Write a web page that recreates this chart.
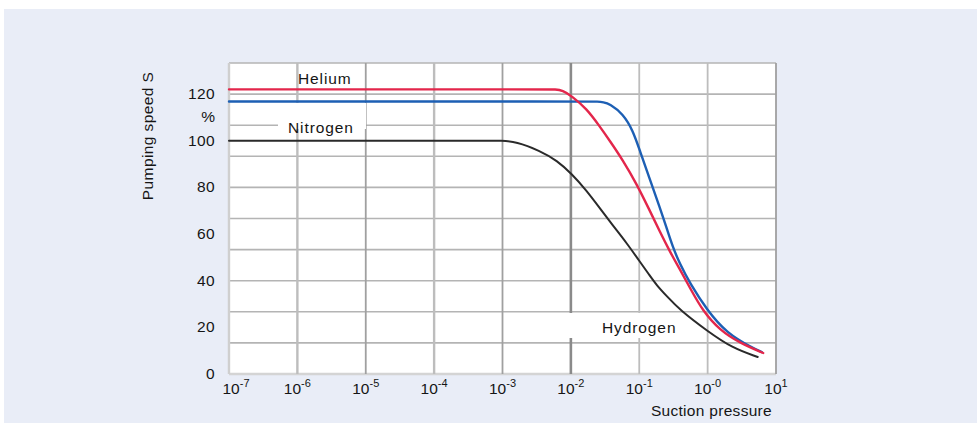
<!DOCTYPE html>
<html>
<head>
<meta charset="utf-8">
<script src="https://cdn.jsdelivr.net/npm/d3@7"></script>
<style>
  body { margin: 0; background: #fff; }
  text { font-family: 'Liberation Sans', Arial, sans-serif; fill: #151515; }
</style>
</head>
<body>
<div id="chart"></div>
<script>
// pressure exponents for the decade ticks
const decades = [-7, -6, -5, -4, -3, -2, -1, 0, 1]
const decadeLabels = ['-7', '-6', '-5', '-4', '-3', '-2', '-1', '-0', '1']
const speedTicks = [0, 20, 40, 60, 80, 100, 120]

// curves: pressure, pumping speed %
const heliumP = [1e-7, 4.5e-3, 5.9e-3, 7.6e-3, 1.02e-2, 1.7e-2, 2.6e-2, 3.7e-2, 5.8e-2, 9.1e-2, 1.4e-1, 2.0e-1, 2.8e-1, 3.9e-1, 5.5e-1, 8.5e-1, 1.5, 3.0, 6.5]
const heliumS = [122, 122, 122, 121.5, 119.2, 113.7, 106.4, 100, 91.5, 81.6, 70.5, 61, 52.5, 45, 37, 27, 18.8, 13.2, 9.0]

const hydrogenP = [1e-7, 2.0e-2, 2.4e-2, 3.0e-2, 3.7e-2, 5.8e-2, 8.1e-2, 1.02e-1, 1.4e-1, 2.0e-1, 2.5e-1, 3.1e-1, 3.9e-1, 5.5e-1, 9.8e-1, 1.9, 4.6, 6.2]
const hydrogenS = [116.8, 116.8, 116.8, 116.5, 115.8, 111.5, 104.3, 95.7, 84.2, 71.4, 62.8, 54.3, 47.4, 38.9, 27.4, 17.5, 11.1, 9.4]

const nitrogenP = [1e-7, 7e-4, 9.1e-4, 1.6e-3, 3.5e-3, 6.3e-3, 1.02e-2, 1.7e-2, 2.6e-2, 4.1e-2, 6.6e-2, 1.0e-1, 1.4e-1, 1.8e-1, 2.5e-1, 3.9e-1, 9.8e-1, 2.3, 5.4]
const nitrogenS = [100, 100, 100, 99.6, 95.7, 91.5, 85.9, 78.6, 71.4, 63.7, 56, 48.5, 42.5, 38, 33.5, 27.5, 18.5, 11.1, 7.3]

const width = 977
const height = 423
const plot = { left: 229, right: 776, top: 63, bottom: 374 }
const yMax = 133.3

const svg = d3
  .select('#chart')
  .append('svg')
  .attr('width', width)
  .attr('height', height)

// panel background
svg
  .append('rect')
  .attr('x', 4)
  .attr('y', 9)
  .attr('width', width - 4)
  .attr('height', height - 9)
  .attr('fill', '#e9edf7')

const xScale = d3
  .scaleLog()
  .domain([1e-7, 10])
  .range([plot.left, plot.right])

const yScale = d3
  .scaleLinear()
  .domain([0, yMax])
  .range([plot.bottom, plot.top])

svg
  .append('rect')
  .attr('x', plot.left)
  .attr('y', plot.top)
  .attr('width', plot.right - plot.left)
  .attr('height', plot.bottom - plot.top)
  .attr('fill', '#fff')

// horizontal grid: the scan has ten equal divisions, not one per label
const grid = svg.append('g')
grid
  .selectAll('.hgrid')
  .data(d3.range(0, 11).map(i => (i * yMax) / 10))
  .enter()
  .append('line')
  .attr('class', 'hgrid')
  .attr('x1', plot.left)
  .attr('x2', plot.right)
  .attr('y1', d => yScale(d))
  .attr('y2', d => yScale(d))
  .attr('stroke', (d, i) => (i === 0 ? '#d4d4d4' : '#b4b4b4'))
  .attr('stroke-width', (d, i) => (i === 0 ? 2.5 : 1.6))

grid
  .selectAll('.vgrid')
  .data(decades)
  .enter()
  .append('line')
  .attr('class', 'vgrid')
  .attr('x1', d => xScale(Math.pow(10, d)))
  .attr('x2', d => xScale(Math.pow(10, d)))
  .attr('y1', plot.top)
  .attr('y2', plot.bottom)
  .attr('stroke', d => {
    if (d === -2) return '#8a8a8a'
    if (d === -7) return '#cfcfcf'
    if (d === -5 || d === -3 || d === 1) return '#a0a0a0'
    return '#bdbdbd'
  })
  .attr('stroke-width', d => {
    if (d === -2) return 2.6
    if (d === -6 || d === -4 || d === -7) return 2.4
    return 1.8
  })

// white boxes behind the curve labels
svg
  .append('rect')
  .attr('x', 278)
  .attr('y', 103)
  .attr('width', 88)
  .attr('height', 26)
  .attr('fill', '#fff')

svg
  .append('rect')
  .attr('x', 566)
  .attr('y', 313)
  .attr('width', 118)
  .attr('height', 25)
  .attr('fill', '#fff')

const line = d3
  .line()
  .x(d => xScale(d[0]))
  .y(d => yScale(d[1]))
  .curve(d3.curveBasis)

const series = [
  { p: nitrogenP, s: nitrogenS, color: '#2a2a2a', w: 2 },
  { p: hydrogenP, s: hydrogenS, color: '#1d5fb4', w: 2.4 },
  { p: heliumP, s: heliumS, color: '#e3264b', w: 2.4 }
]

svg
  .append('g')
  .selectAll('path')
  .data(series)
  .enter()
  .append('path')
  .attr('d', d => line(d3.zip(d.p, d.s)))
  .attr('fill', 'none')
  .attr('stroke', d => d.color)
  .attr('stroke-width', d => d.w)
  .attr('stroke-linecap', 'round')

// curve labels
const labels = [
  { text: 'Helium', x: 298, y: 84 },
  { text: 'Nitrogen', x: 288, y: 133 },
  { text: 'Hydrogen', x: 602, y: 333 }
]

svg
  .append('g')
  .selectAll('text')
  .data(labels)
  .enter()
  .append('text')
  .attr('x', d => d.x)
  .attr('y', d => d.y)
  .attr('font-size', 15.5)
  .attr('letter-spacing', 0.9)
  .text(d => d.text)

// y tick labels
svg
  .append('g')
  .selectAll('text')
  .data(speedTicks)
  .enter()
  .append('text')
  .attr('x', 215)
  .attr('y', d => yScale(d) + 5)
  .attr('text-anchor', 'end')
  .attr('font-size', 15.5)
  .attr('letter-spacing', 0.4)
  .text(d => d)

svg
  .append('text')
  .attr('x', 215)
  .attr('y', 122)
  .attr('text-anchor', 'end')
  .attr('font-size', 15.5)
  .text('%')

// x tick labels with superscript exponents
const xLabels = svg
  .append('g')
  .selectAll('text')
  .data(decades)
  .enter()
  .append('text')
  .attr('x', (d, i) => xScale(Math.pow(10, d)) + (i === 0 ? 7 : 0))
  .attr('y', 394)
  .attr('text-anchor', 'middle')
  .attr('font-size', 15.5)

xLabels.append('tspan').text('10')
xLabels
  .append('tspan')
  .attr('font-size', 11)
  .attr('dy', -7)
  .text((d, i) => decadeLabels[i])

// axis titles
svg
  .append('text')
  .attr('transform', 'translate(153,136) rotate(-90)')
  .attr('text-anchor', 'middle')
  .attr('font-size', 15.5)
  .attr('letter-spacing', 0.4)
  .text('Pumping speed S')

svg
  .append('text')
  .attr('x', 772)
  .attr('y', 416)
  .attr('text-anchor', 'end')
  .attr('font-size', 15.5)
  .attr('letter-spacing', 0.3)
  .text('Suction pressure')
</script>
</body>
</html>
